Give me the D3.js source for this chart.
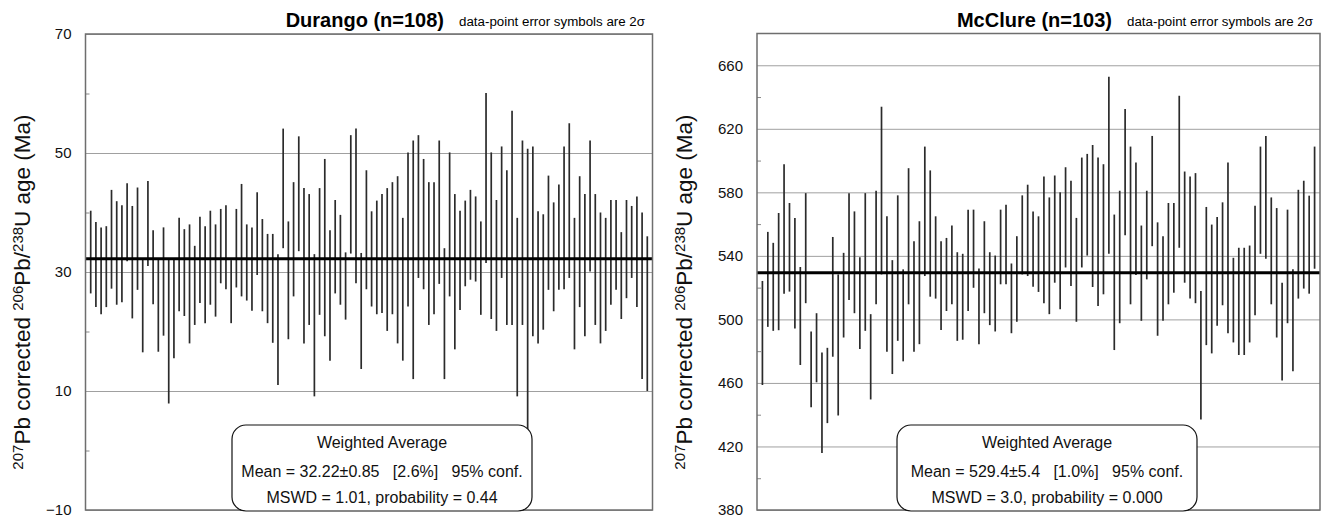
<!DOCTYPE html>
<html>
<head>
<meta charset="utf-8">
<script src="https://cdn.jsdelivr.net/npm/d3@7"></script>
<style>
  html, body { margin: 0; padding: 0; background: #fff; }
  svg text { font-family: Arial, "Liberation Sans", Helvetica, sans-serif; }
</style>
</head>
<body>
<svg id="chart" width="1323" height="517"></svg>
<script>
// Durango apatite: 2-sigma error-bar ends (Ma), analyses 1..108
const durangoLo = [26.4,24.1,22.9,24.1,27.2,24.5,24.9,31.8,22.2,27.0,16.5,31.0,24.6,16.6,19.3,7.9,15.5,23.4,22.6,18.0,
  21.1,24.8,21.4,24.5,22.5,28.1,27.1,21.4,27.4,25.9,25.2,23.5,29.5,23.4,21.4,18.1,11.0,34.0,18.7,25.9,
  33.5,18.0,21.1,9.1,22.8,19.2,15.1,26.4,24.5,22.0,33.1,28.1,13.7,27.1,24.2,22.9,23.1,20.1,22.9,18.0,
  15.1,24.2,12.0,29.0,27.1,21.1,22.9,28.0,12.0,25.9,17.0,23.6,27.6,28.7,28.4,22.8,31.5,22.1,20.1,29.0,
  21.1,21.1,9.1,21.1,-4.0,19.2,18.0,20.3,27.0,23.4,27.0,27.1,29.0,17.0,24.1,19.2,30.1,21.1,18.0,20.1,
  24.5,27.0,22.1,25.6,29.0,24.1,12.0,10.0];
const durangoHi = [40.3,38.4,37.5,37.7,43.8,41.9,41.2,44.9,41.1,44.2,32.2,45.3,37.0,32.2,37.5,32.2,32.2,39.1,37.2,38.0,
  34.4,39.3,37.7,40.3,38.0,40.6,41.2,32.0,40.6,44.8,38.0,37.5,43.4,38.9,36.4,36.4,33.0,54.1,38.5,45.1,
  52.8,44.1,43.1,33.0,44.1,49.0,37.0,42.1,39.6,33.3,53.0,54.1,33.2,47.1,40.2,42.0,43.1,44.1,45.1,46.1,
  39.1,50.1,52.1,53.0,49.0,45.1,45.1,52.1,34.0,50.1,43.1,40.3,42.0,43.8,42.7,38.5,60.1,50.1,42.1,51.1,
  47.1,57.1,39.1,52.1,50.7,51.1,40.2,39.7,46.2,41.7,44.7,51.1,55.0,39.1,46.1,43.1,52.1,43.1,40.0,39.1,
  42.1,42.1,36.7,42.1,41.1,42.7,40.0,36.0];

// McClure apatite: 2-sigma error-bar ends (Ma), analyses 1..103
const mcclureLo = [458.7,495.3,492.8,493.2,516.2,517.5,494.3,471.3,510.2,444.7,460.4,415.9,434.7,476.5,439.5,488.6,512.2,503.9,481.3,492.8,
  449.6,509.5,528.3,479.6,465.6,486.5,473.6,509.5,479.6,484.4,527.3,514.3,513.1,493.4,505.3,509.5,486.5,487.2,505.3,519.9,
  484.4,503.9,496.4,492.4,522.1,522.1,491.3,498.5,528.3,527.3,520.6,517.3,510.2,503.3,523.1,506.4,532.7,521.0,498.5,532.7,
  540.2,520.4,508.5,515.8,541.3,480.7,497.6,553.0,509.5,527.9,499.1,525.2,546.1,489.7,499.1,509.5,516.8,545.1,523.1,513.1,
  510.2,437.0,483.8,478.6,496.0,508.9,491.3,485.5,477.6,477.6,485.5,502.6,541.3,538.2,509.5,488.6,461.5,497.6,467.3,513.1,
  519.4,516.2,531.9];
const mcclureHi = [524.2,555.1,548.2,567.0,597.7,573.3,563.9,533.0,579.5,492.4,503.9,479.2,482.1,551.9,528.3,541.9,579.5,568.0,539.2,579.5,
  503.3,581.0,633.9,564.9,537.3,578.1,531.5,595.2,549.2,561.8,608.8,593.8,564.9,549.2,551.3,559.1,542.3,541.3,569.1,569.1,
  532.1,561.8,542.3,540.2,569.1,572.2,535.2,552.4,578.1,584.8,568.0,564.9,590.0,576.8,590.6,580.0,595.8,587.3,563.9,601.9,
  604.2,609.8,601.9,597.7,652.7,566.0,581.0,632.4,608.8,598.8,559.1,581.0,615.5,561.1,552.4,573.3,573.3,640.8,593.1,590.0,
  592.1,517.9,570.8,559.7,564.5,573.7,598.8,538.8,545.1,545.1,546.5,571.6,608.8,615.5,576.8,570.1,523.1,569.1,531.5,581.6,
  587.3,577.9,608.8];

// Weighted means and their summary lines
const durangoMean = 32.22;
const mcclureMean = 529.4;
const durangoTitle = "Durango (n=108)";
const mcclureTitle = "McClure (n=103)";
const noteText = "data-point error symbols are 2\u03C3";
const durangoBox = ["Weighted Average", "Mean = 32.22\u00B10.85   [2.6%]   95% conf.", "MSWD = 1.01, probability = 0.44"];
const mcclureBox = ["Weighted Average", "Mean = 529.4\u00B15.4   [1.0%]   95% conf.", "MSWD = 3.0, probability = 0.000"];

// Tick values
const durangoMajor = [70, 50, 30, 10, -10];
const durangoMinor = [60, 40, 20, 0];
const mcclureMajor = [660, 620, 580, 540, 500, 460, 420, 380];
const mcclureMinor = [640, 600, 560, 520, 480, 440, 400];

const svg = d3.select("#chart");

function panel(cfg) {
  const g = svg.append("g");
  const n = cfg.lo.length;
  const x = d3.scaleLinear().domain([0, n + 1]).range([cfg.x0, cfg.x1]);
  const y = d3.scaleLinear().domain(cfg.domain).range([cfg.y1, cfg.y0]);
  const w = cfg.x1 - cfg.x0;

  // gridlines + labels
  const major = g.append("g").attr("transform", `translate(${cfg.x0},0)`)
    .call(d3.axisLeft(y).tickValues(cfg.major).tickSize(-w).tickSizeOuter(0).tickPadding(cfg.pad)
      .tickFormat(d3.format("d")));
  major.select(".domain").remove();
  major.selectAll(".tick line").attr("stroke", "#a0a0a0").attr("stroke-width", 1);
  major.selectAll(".tick text").attr("font-size", 15).attr("fill", "#111")
    .attr("font-family", "Arial, 'Liberation Sans', sans-serif");

  // minor inward ticks
  const minor = g.append("g").attr("transform", `translate(${cfg.x0},0)`)
    .call(d3.axisLeft(y).tickValues(cfg.minor).tickSize(-4).tickSizeOuter(0).tickFormat(""));
  minor.select(".domain").remove();
  minor.selectAll(".tick line").attr("stroke", "#888");

  // error bars
  g.append("g").selectAll("line.bar")
    .data(d3.range(n))
    .join("line")
    .attr("class", "bar")
    .attr("x1", i => x(i + 1)).attr("x2", i => x(i + 1))
    .attr("y1", i => y(cfg.hi[i])).attr("y2", i => y(cfg.lo[i]))
    .attr("stroke", "#2b2b2b").attr("stroke-width", 1.7);

  // weighted mean line
  g.append("line")
    .attr("x1", cfg.x0).attr("x2", cfg.x1)
    .attr("y1", y(cfg.mean)).attr("y2", y(cfg.mean))
    .attr("stroke", "#000").attr("stroke-width", 3);

  // frame
  g.append("rect")
    .attr("x", cfg.x0).attr("y", cfg.y0)
    .attr("width", w).attr("height", cfg.y1 - cfg.y0)
    .attr("fill", "none").attr("stroke", "#6e6e6e").attr("stroke-width", 1.5);

  // summary box
  const bx = cfg.boxX, bw = 300, by = 425, bh = 86;
  g.append("rect")
    .attr("x", bx).attr("y", by).attr("width", bw).attr("height", bh)
    .attr("rx", 14).attr("ry", 14)
    .attr("fill", "#fff").attr("stroke", "#111").attr("stroke-width", 1.2);
  const baselines = [448, 476.5, 503];
  cfg.box.forEach((t, k) => {
    g.append("text")
      .attr("x", bx + bw / 2).attr("y", baselines[k])
      .attr("text-anchor", "middle")
      .attr("font-size", 16)
      .style("white-space", "pre")
      .attr("fill", "#111")
      .text(t);
  });

  // title and note
  g.append("text")
    .attr("x", cfg.titleEnd).attr("y", 27)
    .attr("text-anchor", "end")
    .attr("font-size", 20).attr("font-weight", "bold")
    .text(cfg.title);
  g.append("text")
    .attr("x", cfg.titleEnd + 15).attr("y", 26)
    .attr("font-size", 12)
    .attr("textLength", 186).attr("lengthAdjust", "spacingAndGlyphs")
    .text(noteText);

  // y-axis title with superscript mass numbers
  const yt = g.append("text")
    .attr("transform", `translate(${cfg.labelX},292) rotate(-90)`)
    .attr("text-anchor", "middle")
    .attr("font-size", 22.5)
    .attr("fill", "#111");
  const parts = [["207", true], ["Pb corrected ", false], ["206", true], ["Pb/", false], ["238", true], ["U age (Ma)", false]];
  parts.forEach(([t, sup]) => {
    yt.append("tspan")
      .attr("font-size", sup ? 15 : 22.5)
      .attr("baseline-shift", sup ? "7.5" : null)
      .style("white-space", "pre")
      .text(t);
  });
}

panel({
  lo: durangoLo, hi: durangoHi, mean: durangoMean,
  domain: [-10, 70], major: durangoMajor, minor: durangoMinor,
  x0: 85.5, x1: 652.5, y0: 34, y1: 510, pad: 14,
  boxX: 232, box: durangoBox, title: durangoTitle, titleEnd: 444, labelX: 30
});

panel({
  lo: mcclureLo, hi: mcclureHi, mean: mcclureMean,
  domain: [380, 680], major: mcclureMajor, minor: mcclureMinor,
  x0: 757, x1: 1320, y0: 33.5, y1: 510, pad: 14,
  boxX: 897, box: mcclureBox, title: mcclureTitle, titleEnd: 1112, labelX: 692
});
</script>
</body>
</html>
